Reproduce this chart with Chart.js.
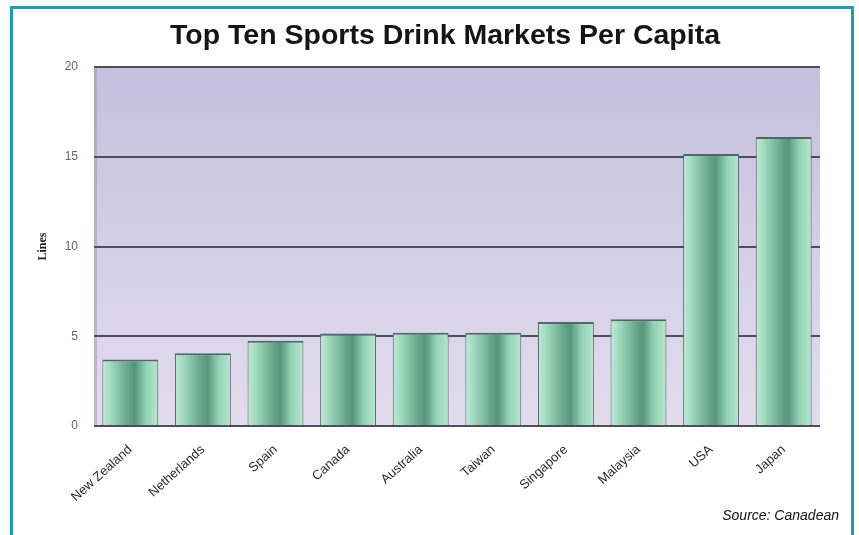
<!DOCTYPE html>
<html>
<head>
<meta charset="utf-8">
<script src="https://cdn.jsdelivr.net/npm/chart.js@4"></script>
<style>
  body { margin: 0; background: #fff; }
  #wrap { position: relative; width: 859px; height: 535px; overflow: hidden; }
  #frame {
    position: absolute; left: 10px; top: 6px; width: 838px; height: 560px;
    border: 3px solid #1f9db1; pointer-events: none;
  }
  #title {
    position: absolute; left: 0; top: 17px; width: 890px; text-align: center;
    font: bold 28.5px/34px "Liberation Sans", Arial, sans-serif; color: #151515;
  }
  #source {
    position: absolute; right: 20px; top: 507px;
    font: italic 14px "Liberation Sans", Arial, sans-serif; color: #111;
  }
</style>
</head>
<body>
<div id="wrap">
  <canvas id="chart" width="859" height="535"></canvas>
  <div id="title">Top Ten Sports Drink Markets Per Capita</div>
  <div id="frame"></div>
  <div id="source">Source: Canadean</div>
</div>
<script>
// 国家和数值
const countries = ['New Zealand', 'Netherlands', 'Spain', 'Canada', 'Australia',
                   'Taiwan', 'Singapore', 'Malaysia', 'USA', 'Japan'];
const litres = [3.7, 4.05, 4.75, 5.15, 5.2, 5.2, 5.8, 5.95, 15.15, 16.1];
const yTicks = [0, 5, 10, 15, 20];

const barPct = 0.77;

// 绘图区背景
const plotBackground = {
    id: 'plotBackground',
    beforeDraw(chart) {
        const { ctx, chartArea: a } = chart;
        const g = ctx.createLinearGradient(0, a.top, 0, a.bottom);
        g.addColorStop(0, '#c4c0dd');
        g.addColorStop(0.6, '#d6d2e8');
        g.addColorStop(1, '#e2dcec');
        ctx.save();
        ctx.fillStyle = g;
        ctx.fillRect(a.left, a.top, a.right - a.left, a.bottom - a.top);
        ctx.fillStyle = 'rgba(150,150,170,0.5)';
        ctx.fillRect(a.left, a.top, 3, a.bottom - a.top);
        ctx.restore();
    }
};

// 柱子的横向渐变
function barGradient(context) {
    const chart = context.chart;
    const x = chart.scales.x;
    if (!x || !chart.chartArea) return '#8fd0b2';
    const cx = x.getPixelForValue(context.dataIndex);
    const w = (x.width / countries.length) * barPct;
    const g = chart.ctx.createLinearGradient(cx - w / 2, 0, cx + w / 2, 0);
    g.addColorStop(0, '#c2e9d7');
    g.addColorStop(0.15, '#a0dabe');
    g.addColorStop(0.45, '#69a88e');
    g.addColorStop(0.58, '#56957e');
    g.addColorStop(0.78, '#92d4b4');
    g.addColorStop(1, '#bae5d0');
    return g;
}

const ctx = document.getElementById('chart').getContext('2d');
new Chart(ctx, {
    type: 'bar',
    data: {
        labels: countries,
        datasets: [{
            data: litres,
            backgroundColor: barGradient,
            borderColor: '#56626c',
            borderWidth: { top: 2, left: 1, right: 1, bottom: 0 },
            barPercentage: barPct,
            categoryPercentage: 1
        }]
    },
    options: {
        responsive: false,
        animation: false,
        layout: { padding: { left: 36, right: 39, top: 67, bottom: 0 } },
        plugins: {
            legend: { display: false },
            tooltip: { enabled: false }
        },
        scales: {
            x: {
                grid: { display: false },
                border: { display: false },
                ticks: {
                    minRotation: 42,
                    maxRotation: 42,
                    color: '#2a2a2a',
                    padding: 8,
                    font: { family: '"Liberation Sans", Arial, sans-serif', size: 13 }
                },
                afterFit(scale) { scale.height = 109; }
            },
            y: {
                min: 0,
                max: 20,
                afterBuildTicks(scale) { scale.ticks = yTicks.map(v => ({ value: v })); },
                grid: { color: '#4d4d5c', lineWidth: 2, drawTicks: false },
                border: { display: false },
                ticks: {
                    color: '#666',
                    padding: 16,
                    font: { family: '"Liberation Sans", Arial, sans-serif', size: 12 }
                },
                title: {
                    display: true,
                    text: 'Lines',
                    color: '#222',
                    font: { family: '"Liberation Serif", serif', size: 12, weight: 'bold' },
                    padding: { top: 0, bottom: 0 }
                },
                afterFit(scale) { scale.width = 58; }
            }
        }
    },
    plugins: [plotBackground]
});
</script>
</body>
</html>
